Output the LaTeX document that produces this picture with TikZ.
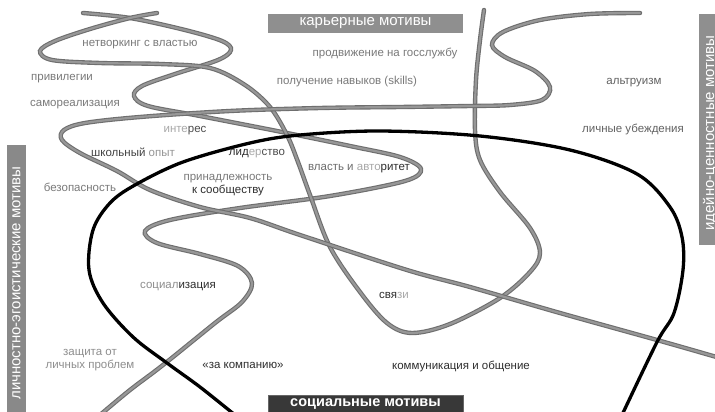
\documentclass[tikz,border=0pt]{standalone}
\usepackage{fontspec}
\setmainfont{Liberation Sans}
\definecolor{tubeedge}{HTML}{6E6E6E}
\definecolor{tubemid}{HTML}{979797}
\definecolor{boxgray}{HTML}{8F8F8F}
\definecolor{boxdark}{HTML}{383838}
\definecolor{tdark}{HTML}{2E2E2E}
\definecolor{tmid}{HTML}{7A7A7A}
\definecolor{tlight}{HTML}{A8A8A8}
\begin{document}
\begin{tikzpicture}[x=1pt,y=-1pt,
  tube/.style={draw=tubeedge,line width=4.4pt,line cap=round,
    postaction={draw=tubemid,line width=2.2pt,line cap=round}},
  blackline/.style={draw=black,line width=3.3pt,line cap=round},
  lbl/.style={font=\fontsize{11.5}{13.5}\selectfont,inner sep=0pt,anchor=center,text=tmid,align=center},
  boxtxt/.style={font=\fontsize{15}{17}\selectfont,inner sep=0pt,anchor=center,text=white}]
\useasboundingbox (0,0) rectangle (715,412);
\clip (0,0) rectangle (715,412);
\fill[white] (0,0) rectangle (715,412);

% category boxes
\fill[boxgray] (268,14) rectangle (463,33);
\node[boxtxt] (career) at (365.5,23.5) {карьерные мотивы};
\filldraw[fill=boxdark,draw=black!60] (268,395) rectangle (463,420);
\node[boxtxt,font=\fontsize{14.5}{17}\selectfont\bfseries] (social) at (365.5,404.5) {социальные мотивы};
\fill[boxgray!105] (7,145) rectangle (26,420);
\node[boxtxt,rotate=90,font=\fontsize{15}{17}\selectfont] (personal) at (16.5,283) {личностно-эгоистические мотивы};
\fill[boxgray] (699,14) rectangle (722,245);
\node[boxtxt,rotate=90,font=\fontsize{15}{17}\selectfont] (ideal) at (710,133) {идейно-ценностные мотивы};

% gray curve A
\draw[tube] plot[smooth,tension=0.55] coordinates {(83,13) (130,18) (185,30) (222,41) (231,50) (218,60) (175,74) (142,86) (134,96) (148,106) (200,116) (287,133) (350,146) (400,157) (421,169) (405,181) (330,196) (240,208) (170,220) (145,231) (157,243) (200,254) (238,266) (252,283) (242,302) (215,323) (163,365) (130,390) (100,415)};
% gray curve B
\draw[tube] plot[smooth,tension=0.55] coordinates {(157,13) (130,18) (90,29) (55,41) (40,51) (52,60) (100,63) (160,64) (210,68) (245,85) (270,107) (287,135) (298,162) (310,195) (330,247) (360,292) (387,323) (412,333) (450,324) (500,298) (530,272) (540,253) (530,228) (500,192) (480,160) (475,130) (476,80) (480,40) (484,10)};
% gray curve C
\draw[tube] plot[smooth,tension=0.55] coordinates {(640,13) (590,14) (540,20) (503,32) (492,45) (505,57) (535,71) (550,87) (542,100) (510,105) (470,106) (400,107) (320,108) (230,111) (140,117) (85,123) (64,130) (62,140) (80,153) (117,171) (150,190) (200,207) (250,218) (300,235) (407,270) (470,287) (560,313) (657,340) (720,358)};
% black curve
\draw[blackline] plot[smooth,tension=0.55] coordinates {(235,415) (200,387) (167,363) (133,337) (103,303) (89,270) (93,230) (110,203) (135,185) (183,162) (250,143) (300,135) (380,131) (480,136) (570,150) (637,174) (670,207) (682,237) (683,270) (674,313) (657,342) (622,415)};

% labels
\node[lbl] (netw) at (140,45) {нетворкинг с властью};
\node[lbl] (priv) at (62,79) {привилегии};
\node[lbl] (selfr) at (75,105) {самореализация};
\node[lbl] (inter) at (185,131) {\textcolor{tlight}{инте}\textcolor{tdark!85}{рес}};
\node[lbl] (school) at (133,152) {\textcolor{tdark!90}{школьный} \textcolor{tmid!80}{опыт}};
\node[lbl] (safety) at (80,187) {безопасность};
\node[lbl] (leader) at (257,154) {\textcolor{tdark}{лид}\textcolor{tlight}{ер}\textcolor{tdark!85}{ство}};
\node[lbl] (belong) at (228,185) {принадлежность\\\textcolor{tdark}{к сообществу}};
\node[lbl] (power) at (359,169) {\textcolor{tdark!70}{власть и }\textcolor{tlight}{авто}\textcolor{tdark}{ритет}};
\node[lbl] (promo) at (385,53) {продвижение на госслужбу};
\node[lbl] (skills) at (347,82) {получение навыков (skills)};
\node[lbl,text=tdark!75] (altr) at (634,83) {альтруизм};
\node[lbl,text=tdark!75] (belief) at (633,129) {личные убеждения};
\node[lbl] (soc) at (178,287) {\textcolor{tmid!85}{социал}\textcolor{tdark}{изация}};
\node[lbl,text=tmid!85] (prot) at (90,360) {защита от\\личных проблем};
\node[lbl,text=tdark] (comp) at (243,365) {«за компанию»};
\node[lbl] (links) at (394,295) {\textcolor{tdark}{свя}\textcolor{tlight}{зи}};
\node[lbl,text=tdark] (comm) at (461,366) {коммуникация и общение};
\end{tikzpicture}
\end{document}
